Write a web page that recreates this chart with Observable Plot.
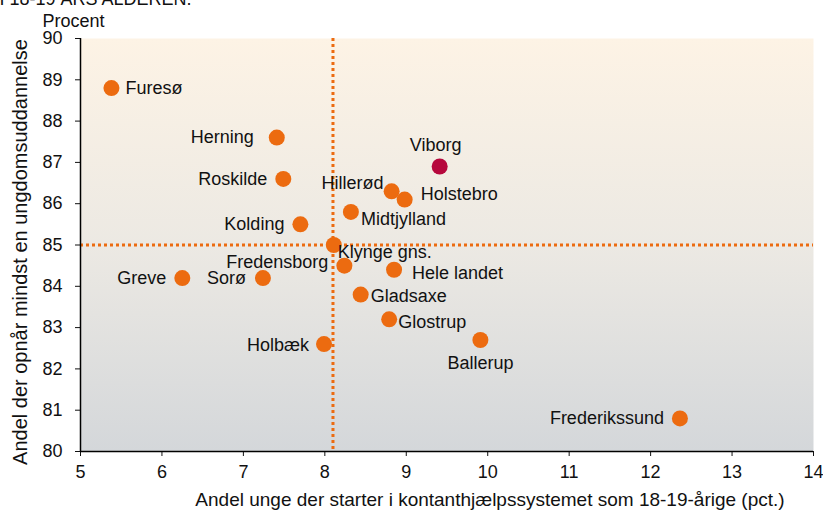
<!DOCTYPE html>
<html>
<head>
<meta charset="utf-8">
<script src="https://cdn.jsdelivr.net/npm/d3@7"></script>
<script src="https://cdn.jsdelivr.net/npm/@observablehq/plot@0.6"></script>
<style>
  html, body { margin: 0; padding: 0; background: #fff; overflow: hidden; }
  svg { font-family: "Liberation Sans", Arial, sans-serif; }
</style>
</head>
<body>
<div id="chart"></div>
<script>
const names = ["Furesø","Herning","Roskilde","Kolding","Klynge gns.","Midtjylland","Hillerød","Holstebro","Viborg","Fredensborg","Hele landet","Gladsaxe","Glostrup","Ballerup","Frederikssund","Greve","Sorø","Holbæk"];
const kontanthjaelp = [5.38,7.41,7.49,7.70,8.11,8.32,8.82,8.98,9.41,8.24,8.85,8.44,8.79,9.91,12.36,6.25,7.24,7.99];
const ungdomsudd = [88.8,87.6,86.6,85.5,85.0,85.8,86.3,86.1,86.9,84.5,84.4,83.8,83.2,82.7,80.8,84.2,84.2,82.6];
const highlight = "Viborg";
const refX = 8.1;
const refY = 85.0;
const xTicks = [5,6,7,8,9,10,11,12,13,14];
const yTicks = [80,81,82,83,84,85,86,87,88,89,90];
const title = "I 18-19 ÅRS ALDEREN.";
const unitLabel = "Procent";
const xTitle = "Andel unge der starter i kontanthjælpssystemet som 18-19-årige (pct.)";
const yTitle = "Andel der opnår mindst en ungdomsuddannelse";

// label placement (style, not data): [dx, dy, anchor]
const placement = {
  "Furesø": [14, 0, "start"],
  "Herning": [-23, 0, "end"],
  "Roskilde": [-16, 0, "end"],
  "Kolding": [-16, 0, "end"],
  "Klynge gns.": [4, 7, "start"],
  "Midtjylland": [10, 7, "start"],
  "Hillerød": [-8, -8, "end"],
  "Holstebro": [16, -5, "start"],
  "Viborg": [-4, -21, "middle"],
  "Fredensborg": [-16, -3, "end"],
  "Hele landet": [18, 3, "start"],
  "Gladsaxe": [10, 2, "start"],
  "Glostrup": [9, 3, "start"],
  "Ballerup": [0, 23, "middle"],
  "Frederikssund": [-16, 0, "end"],
  "Greve": [-16, 0, "end"],
  "Sorø": [-17, 0, "end"],
  "Holbæk": [-15, 1, "end"]
};

const data = names.map((n, i) => ({name: n, x: kontanthjaelp[i], y: ungdomsudd[i]}));
const ORANGE = "#ec6b10";
const CRIMSON = "#b6083d";
const FS = 18;
const INK = "#111";

const labelMarks = data.map(d => {
  const [dx, dy, anchor] = placement[d.name];
  return Plot.text([d], {x: "x", y: "y", text: "name", dx, dy, textAnchor: anchor, fontSize: FS, fill: INK});
});

const chart = Plot.plot({
  width: 823,
  height: 512,
  marginLeft: 80,
  marginRight: 10,
  marginTop: 38,
  marginBottom: 61,
  style: {fontFamily: "'Liberation Sans', Arial, sans-serif", background: "#fff", overflow: "visible"},
  x: {domain: [5, 14], ticks: xTicks, label: null},
  y: {domain: [80, 90], ticks: yTicks, label: null},
  marks: [
    () => {
      const ns = "http://www.w3.org/2000/svg";
      const defs = document.createElementNS(ns, "defs");
      defs.innerHTML = `<linearGradient id="bg" x1="0" y1="0" x2="0" y2="1">
        <stop offset="0%" stop-color="#fdf3e5"/>
        <stop offset="50%" stop-color="#ece9e3"/>
        <stop offset="100%" stop-color="#d4d7da"/>
      </linearGradient>`;
      return defs;
    },
    Plot.frame({fill: "url(#bg)", stroke: "none"}),
    Plot.ruleX([refX], {stroke: ORANGE, strokeWidth: 3, strokeDasharray: "3 3"}),
    Plot.ruleY([refY], {stroke: ORANGE, strokeWidth: 3, strokeDasharray: "3 3"}),
    Plot.axisX({ticks: xTicks, tickSize: 5, tickPadding: 9, fontSize: FS, label: null, color: INK}),
    Plot.axisY({ticks: yTicks, tickSize: 5, tickPadding: 13, fontSize: FS, label: null, color: INK}),
    Plot.ruleX([5], {stroke: "#000", strokeWidth: 1.5}),
    Plot.ruleY([80], {stroke: "#000", strokeWidth: 1.5}),
    Plot.dot(data.filter(d => d.name !== highlight), {x: "x", y: "y", r: 8, fill: ORANGE, stroke: "none"}),
    Plot.dot(data.filter(d => d.name === highlight), {x: "x", y: "y", r: 8, fill: CRIMSON, stroke: "none"}),
    ...labelMarks,
    Plot.text([unitLabel], {frameAnchor: "top-left", dx: -38, dy: -12, lineAnchor: "bottom", textAnchor: "start", text: d => d, fontSize: FS, fill: INK}),
    Plot.text([title], {frameAnchor: "top-left", dx: -81, dy: -33.5, lineAnchor: "bottom", textAnchor: "start", text: d => d, fontSize: FS, fill: INK}),
    Plot.text([xTitle], {frameAnchor: "bottom", dx: 43, dy: 54, lineAnchor: "bottom", textAnchor: "middle", text: d => d, fontSize: 19, fill: INK}),
    Plot.text([yTitle], {frameAnchor: "left", dx: -60, dy: 7, rotate: -90, textAnchor: "middle", lineAnchor: "middle", text: d => d, fontSize: 20, fill: INK})
  ]
});
document.getElementById("chart").appendChild(chart);
</script>
</body>
</html>
